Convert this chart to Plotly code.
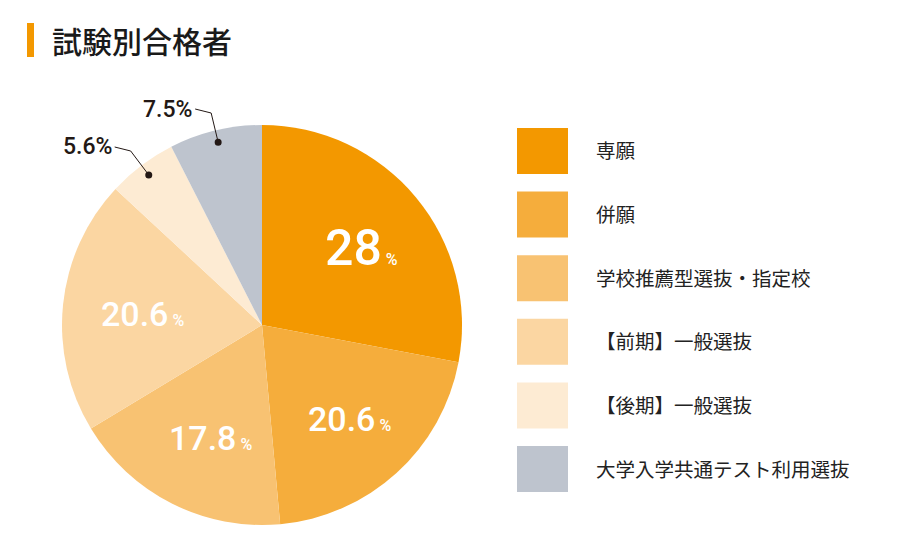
import math
import plotly.graph_objects as go

title = "試験別合格者"
categories = ["専願", "併願", "学校推薦型選抜・指定校", "【前期】一般選抜", "【後期】一般選抜", "大学入学共通テスト利用選抜"]
values = [28, 20.6, 17.8, 20.6, 5.6, 7.5]
value_labels = ["28", "20.6", "17.8", "20.6", "5.6", "7.5"]
colors = ["#F39800", "#F5AD3C", "#F8C272", "#FBD6A2", "#FDEBD3", "#BEC4CE"]
inside = [True, True, True, True, False, False]

W, H = 900, 560
cx, cy, R = 262, 325, 200


def px(x):
    return x / W


def py(y):
    return 1 - y / H


fig = go.Figure(go.Pie(
    labels=categories, values=values, sort=False, direction="clockwise", rotation=0,
    marker=dict(colors=colors, line=dict(width=0)),
    textinfo="none", hoverinfo="label+percent", showlegend=False,
    domain=dict(x=[px(cx - R), px(cx + R)], y=[py(cy + R), py(cy - R)]),
))

total = sum(values)
cum = 0
annotations = []
shapes = []
for v, lab, ins in zip(values, value_labels, inside):
    mid = (cum + v / 2) / total * 2 * math.pi
    cum += v
    sx, sy = math.sin(mid), -math.cos(mid)
    if ins:
        big = 50 if v == max(values) else 34
        annotations.append(dict(
            x=px(cx + sx * R * 0.62 + 4), y=py(cy + sy * R * 0.62 + 2), xref="paper", yref="paper",
            xanchor="center", yanchor="middle",
            text=f"{lab}<span style='font-size:16px'> %</span>", showarrow=False,
            font=dict(family="Roboto", size=big, color="white", weight=500),
        ))
    else:
        dx, dy = cx + sx * R * 0.94, cy + sy * R * 0.94
        ex, ey = cx + sx * R * 1.09, cy + sy * R * 1.09
        tx, ty = ex - 16, ey - 4
        shapes.append(dict(type="path", xref="paper", yref="paper",
                           path=f"M {px(tx)},{py(ty)} L {px(ex)},{py(ey)} L {px(dx)},{py(dy)}",
                           line=dict(color="#231815", width=1)))
        shapes.append(dict(type="circle", xref="paper", yref="paper",
                           x0=px(dx - 3.5), x1=px(dx + 3.5), y0=py(dy + 3.5), y1=py(dy - 3.5),
                           fillcolor="#231815", line=dict(width=0)))
        annotations.append(dict(
            x=px(tx - 1), y=py(ty), xref="paper", yref="paper", xanchor="right", yanchor="middle",
            text=f"{lab}%", showarrow=False,
            font=dict(family="Roboto", size=23, color="#231815", weight=500),
        ))

# legend drawn by hand
for i, (cat, col) in enumerate(zip(categories, colors)):
    top = 128 + i * 63.6
    shapes.append(dict(type="rect", xref="paper", yref="paper",
                       x0=px(517), x1=px(568), y0=py(top + 46), y1=py(top),
                       fillcolor=col, line=dict(width=0)))
    annotations.append(dict(x=px(594), y=py(top + 22), xref="paper", yref="paper",
                            xanchor="left", yanchor="middle", text=cat, showarrow=False,
                            font=dict(family="Noto Sans CJK JP", size=19.5, color="#222222")))

# title with orange bar
shapes.append(dict(type="rect", xref="paper", yref="paper",
                   x0=px(27), x1=px(34), y0=py(57), y1=py(23),
                   fillcolor="#F39800", line=dict(width=0)))
annotations.append(dict(x=px(50), y=py(40), xref="paper", yref="paper",
                        xanchor="left", yanchor="middle", text=title, showarrow=False,
                        font=dict(family="Noto Sans CJK JP", size=30, color="#1a1a1a", weight=500)))

fig.update_layout(
    width=W, height=H, margin=dict(l=0, r=0, t=0, b=0),
    paper_bgcolor="white", plot_bgcolor="white",
    shapes=shapes, annotations=annotations,
)

fig.write_html("out.html", config={"displayModeBar": False},
               post_script="document.body.style.margin='0';")
